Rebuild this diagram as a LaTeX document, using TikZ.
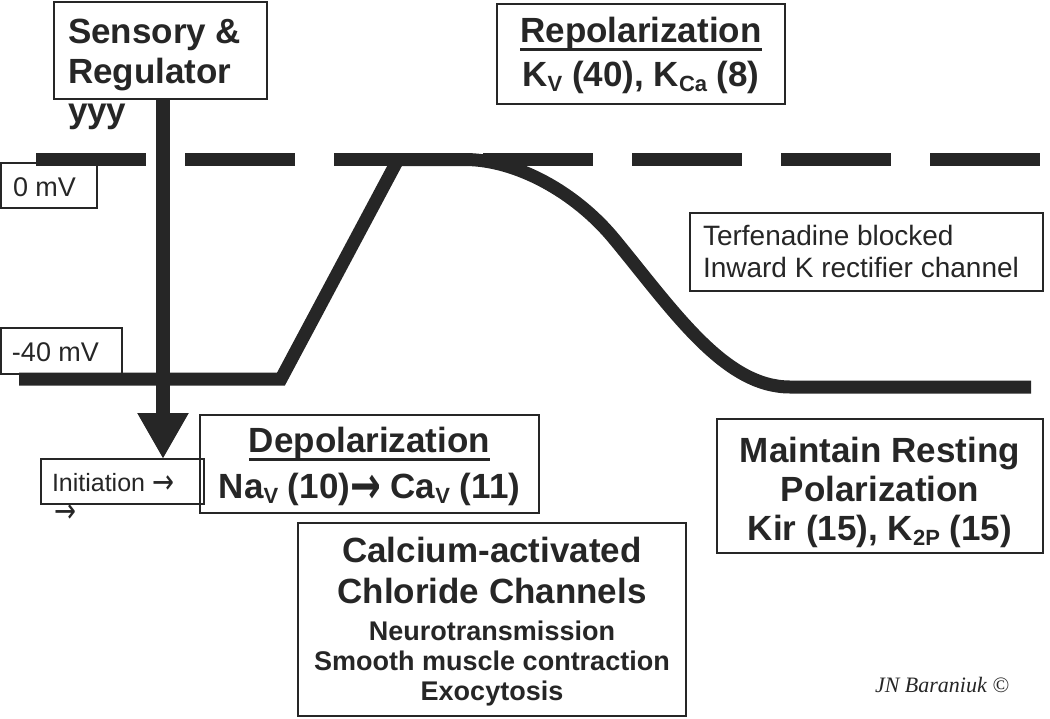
\documentclass[tikz,border=0pt]{standalone}
\usepackage{fontspec}
\setmainfont{Liberation Sans}
\newfontfamily\sigfont{Liberation Serif}
\newfontfamily\arrfont{DejaVu Sans}
\usetikzlibrary{arrows.meta}
\definecolor{ink}{HTML}{262626}
\newcommand\myul[1]{\setbox0\hbox{#1}\rlap{\color{ink}\rule[-9pt]{\wd0}{3pt}}\box0}
\newcommand\subs[1]{\raisebox{-5pt}{\fontsize{22}{22}\selectfont #1}}
\newcommand\rarr{\raisebox{-2pt}{\scalebox{1.05}[1.35]{\arrfont →}}}
\newcommand\bigrarr{\raisebox{-5pt}{\scalebox{1.05}[1.5]{\arrfont\bfseries →}}}
\begin{document}
\begin{tikzpicture}[x=1pt,y=-1pt,
  every node/.style={text=ink, inner sep=0pt, outer sep=0pt},
  box/.style={draw=ink, line width=2pt, anchor=north west},
  title/.style={font=\fontsize{35}{40}\selectfont\bfseries, anchor=base},
  titlel/.style={font=\fontsize{35}{40}\selectfont\bfseries, anchor=base west},
  small/.style={font=\fontsize{27}{30}\selectfont\bfseries, anchor=base},
  plain/.style={font=\fontsize{27}{30}\selectfont, anchor=base west},
  thick trace/.style={draw=ink, line width=13pt},
  bigarrow/.style={draw=ink, line width=14pt, -{Triangle[width=48pt,length=46pt]}}]
\useasboundingbox (0,0) rectangle (1050,718);

% boxes
\node[box, minimum width=213pt, minimum height=97.5pt] (sens) at (54,1.5) {};
\node[box, minimum width=288pt, minimum height=100pt] (repol) at (497,4) {};
\node[box, minimum width=96pt, minimum height=45pt] (zero) at (1,163) {};
\node[box, minimum width=121pt, minimum height=46pt] (m40) at (1,328) {};
\node[box, minimum width=353pt, minimum height=78pt] (terf) at (690,213) {};
\node[box, minimum width=163pt, minimum height=45pt] (init) at (41,459) {};
\node[box, minimum width=339pt, minimum height=98pt] (depol) at (200,415) {};
\node[box, minimum width=326pt, minimum height=134pt] (maint) at (717,419) {};
\node[box, minimum width=388pt, minimum height=193pt] (calc) at (298,523) {};

% potential levels and trace
\draw[thick trace, dash pattern=on 110pt off 39pt] (36,159.5) -- (1040,159.5);
\draw[thick trace] (19,379) -- (281,379) -- (398,159.5) -- (465,159.5)
  .. controls (515,159.5) and (575,191) .. (615,240)
  .. controls (675,313) and (725,387) .. (790,387) -- (1031,387);

% stimulus arrow
\draw[bigarrow] ([xshift=2.5pt]sens.south) -- ([xshift=2.5pt]sens.south |- init.north);

% texts
\node[titlel] (sens1) at (68,43) {Sensory \&};
\node[titlel] (sens2) at (68,83) {Regulator};
\node[titlel] (yyy) at (68,122) {yyy};

\node[title] (repol1) at (641,42) {\myul{Repolarization}};
\node[title] (repol2) at (641,86) {K\subs{V} (40), K\subs{Ca} (8)};

\node[plain] (zerot) at (13,196) {0 mV};
\node[plain] (m40t) at (12,361) {-40 mV};

\node[font=\fontsize{28}{30}\selectfont, anchor=base west] (terf1) at (703,245) {Terfenadine blocked};
\node[font=\fontsize{28}{30}\selectfont, anchor=base west] (terf2) at (703,277) {Inward K rectifier channel};

\node[font=\fontsize{25}{30}\selectfont, anchor=base west] (initt) at (52,491) {Initiation \rarr};
\node[font=\fontsize{25}{30}\selectfont, anchor=base west] (initarr) at (54,520) {\rarr};

\node[title] (depol1) at (369.5,452) {\myul{Depolarization}};
\node[title] (depol2) at (369.5,498) {Na\subs{V} (10)\bigrarr\ Ca\subs{V} (11)};

\node[title] (maint1) at (880,462) {Maintain Resting};
\node[title] (maint2) at (880,501) {Polarization};
\node[title] (maint3) at (880,540) {Kir (15), K\subs{2P} (15)};

\node[title] (calc1) at (492,562) {Calcium-activated};
\node[title] (calc2) at (492,603) {Chloride Channels};
\node[small] (calc3) at (492,640) {Neurotransmission};
\node[small] (calc4) at (492,670) {Smooth muscle contraction};
\node[small] (calc5) at (492,700) {Exocytosis};

\node[font=\sigfont\itshape\fontsize{22}{26}\selectfont, anchor=base west] (sig) at (875,692) {JN Baraniuk ©};
\end{tikzpicture}
\end{document}
